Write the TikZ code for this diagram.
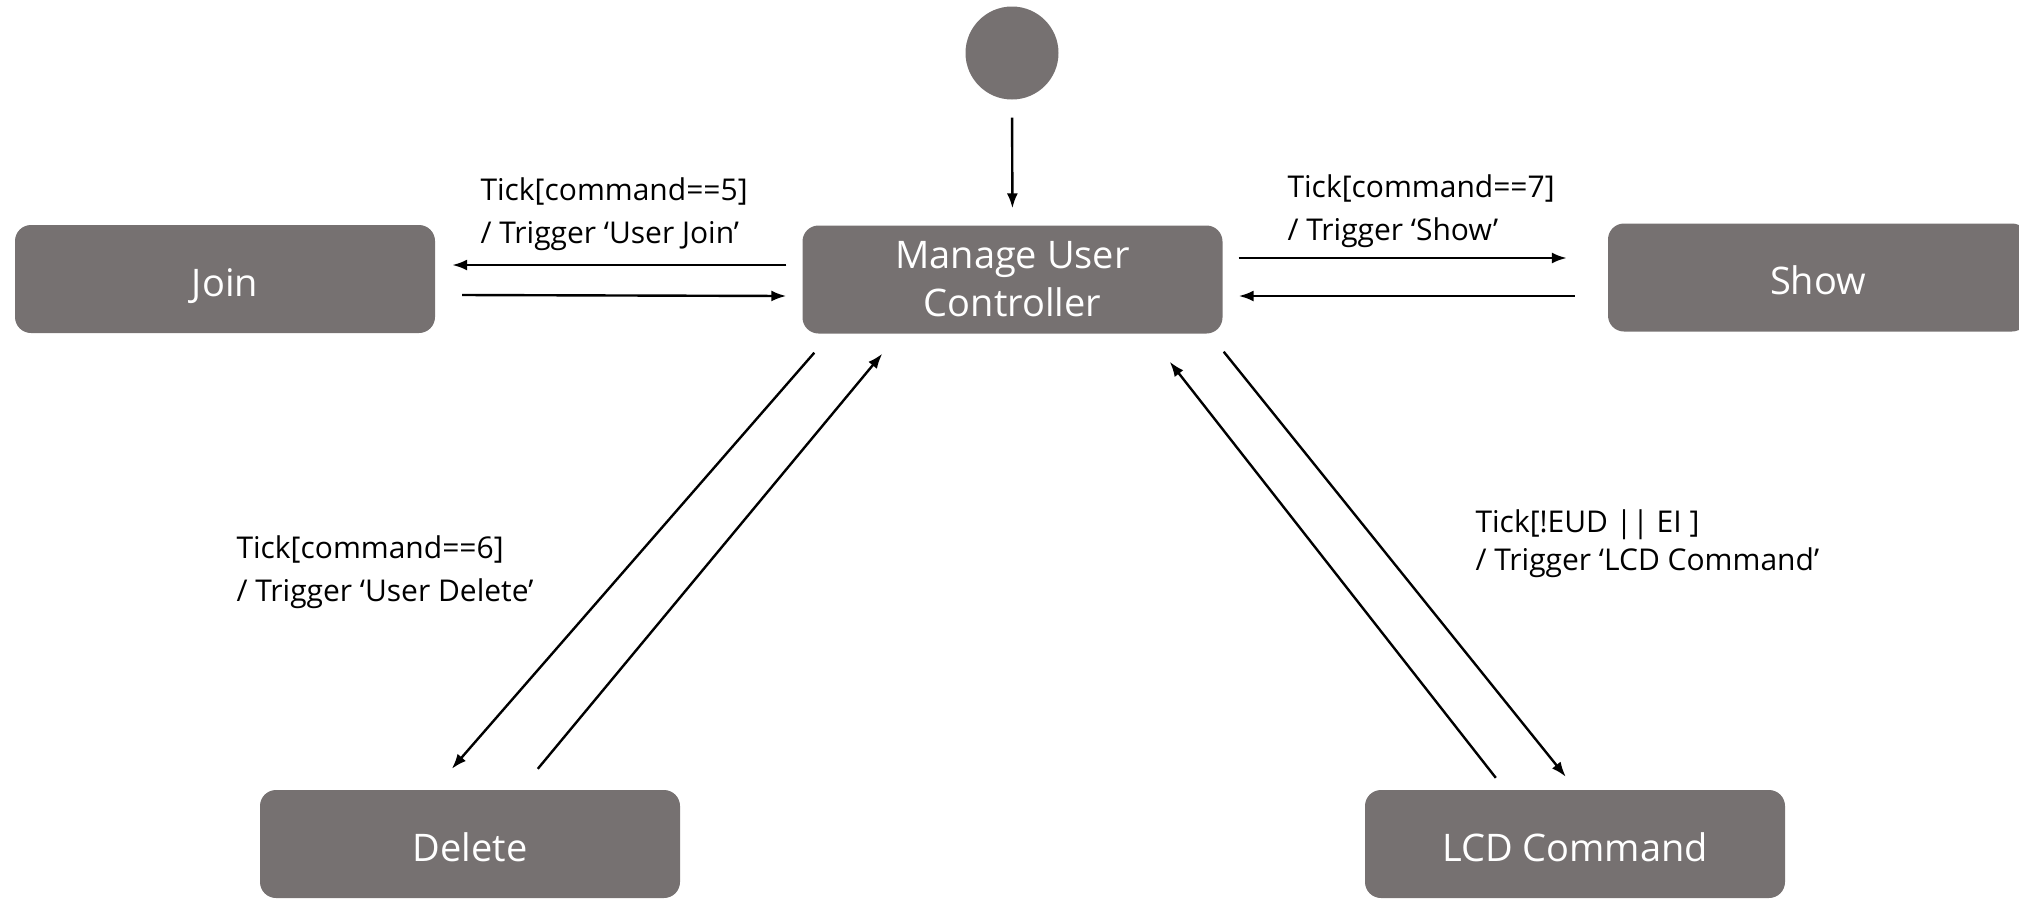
\documentclass[tikz,border=0pt]{standalone}
\usepackage{fontspec}
\setmainfont{Open Sans}
\usetikzlibrary{arrows.meta}
\definecolor{stategray}{RGB}{118,113,113}

\begin{document}
\begin{tikzpicture}[x=1pt,y=-1pt,
	statenode/.style={rectangle, rounded corners=16pt, fill=stategray, text=white, minimum width=420pt, minimum height=108pt, align=center, font=\fontsize{38}{48}\selectfont},
	oneline/.style={text height=34pt, text depth=0pt},
	initnode/.style={circle, fill=stategray, minimum size=93pt, inner sep=0pt},
	trans/.style={line width=2.4pt, -{Latex[length=15pt,width=11pt]}},
	translabel/.style={anchor=west, align=left, font=\fontsize{30}{42.5}\selectfont},
	]
	\useasboundingbox (0,0) rectangle (2019,898);
	%Nodes
	\node[initnode]           (init)  at  (1012,53)      {};
	\node[statenode]          (muc)   at  (1012.5,279.5) {Manage User\\Controller};
	\node[statenode,oneline]  (join)  at  (225,279)      {Join};
	\node[statenode,oneline]  (show)  at  (1818,277.5)   {Show};
	\node[statenode,oneline]  (del)   at  (470,844)      {Delete};
	\node[statenode,oneline]  (lcd)   at  (1575,844)     {LCD Command};
	%Labels
	\node[translabel]  (lbl5)  at  (477,214)     {Tick[command==5]\\/ Trigger ‘User Join’};
	\node[translabel]  (lbl7)  at  (1284,211)    {Tick[command==7]\\/ Trigger ‘Show’};
	\node[translabel]  (lbl6)  at  (233,572)     {Tick[command==6]\\/ Trigger ‘User Delete’};
	\node[translabel, font=\fontsize{30}{38}\selectfont]  (lbllcd) at (1472,544) {Tick[!EUD || EI ]\\/ Trigger ‘LCD Command’};

	%Lines
	\draw[trans, shorten <=18pt, shorten >=17pt] (init.south) -- (muc.north);

	\draw[trans] ([xshift=-16pt,yshift=14.5pt]muc.west) -- ([xshift=17pt,yshift=14pt]join.east);
	\draw[trans] ([xshift=27pt,yshift=-16pt]join.east) -- ([xshift=-16pt,yshift=-16.5pt]muc.west);

	\draw[trans] ([xshift=16pt,yshift=21.5pt]muc.east) -- ([xshift=-41pt,yshift=19.5pt]show.west);
	\draw[trans] ([xshift=-33pt,yshift=-18.5pt]show.west) -- ([xshift=16pt,yshift=-16.5pt]muc.east);

	\draw[trans] ([xshift=12pt,yshift=-19pt]muc.south west) -- ([xshift=192pt,yshift=21pt]del.north west);
	\draw[trans] ([xshift=278pt,yshift=21pt]del.north west) -- ([xshift=80pt,yshift=-20pt]muc.south west);

	\draw[trans] ([xshift=131pt,yshift=12pt]lcd.north west) -- ([xshift=-53pt,yshift=-28pt]muc.south east);
	\draw[trans] ([xshift=1pt,yshift=-18pt]muc.south east) -- ([xshift=201pt,yshift=13pt]lcd.north west);
\end{tikzpicture}
\end{document}
